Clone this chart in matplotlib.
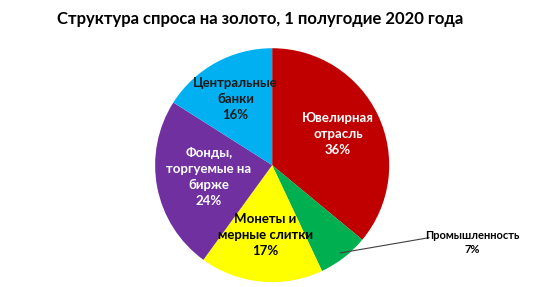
import numpy as np
import matplotlib.pyplot as plt

plt.rcParams['font.family'] = ['Lato', 'DejaVu Sans']

categories = ['Ювелирная\nотрасль', 'Промышленность', 'Монеты и\nмерные слитки',
              'Фонды,\nторгуемые на\nбирже', 'Центральные\nбанки']
shares = [36, 7, 17, 24, 16]
colors = ['#C00000', '#00B050', '#FFFF00', '#7030A0', '#00B0F0']
text_colors = ['white', 'black', 'black', 'white', '#1a1a1a']
label_r = [0.62, None, 0.6, 0.55, 0.65]

fig = plt.figure(figsize=(5.6, 2.87), dpi=100)
fig.patch.set_facecolor('white')
ax = fig.add_axes([0.277, 0.017, 0.418, 0.815])

wedges, _ = ax.pie(shares, colors=colors, startangle=90, counterclock=False,
                   wedgeprops=dict(linewidth=0))
ax.set_xlim(-1, 1)
ax.set_ylim(-1, 1)
ax.set_aspect('auto')

for i, w in enumerate(wedges):
    mid = np.deg2rad((w.theta1 + w.theta2) / 2)
    txt = f'{categories[i]}\n{shares[i]}%'
    if label_r[i] is None:
        # leader line to outside label
        x0, y0 = 0.95 * np.cos(mid), 0.95 * np.sin(mid)
        ax.plot([x0, 1.34], [y0, -0.62], color='#404040', lw=0.8, clip_on=False)
        ax.text(1.71, -0.66, txt, ha='center', va='center', fontsize=8,
                fontweight='bold', color='black', linespacing=1.4, clip_on=False)
    else:
        r = label_r[i]
        ax.text(r * np.cos(mid), r * np.sin(mid), txt, ha='center', va='center',
                fontsize=9.5, fontweight='bold', color=text_colors[i],
                linespacing=1.4)

fig.text(0.464, 0.935, 'Структура спроса на золото, 1 полугодие 2020 года',
         ha='center', va='center', fontsize=12, fontweight='bold')

fig.savefig('out.png', dpi=100)
